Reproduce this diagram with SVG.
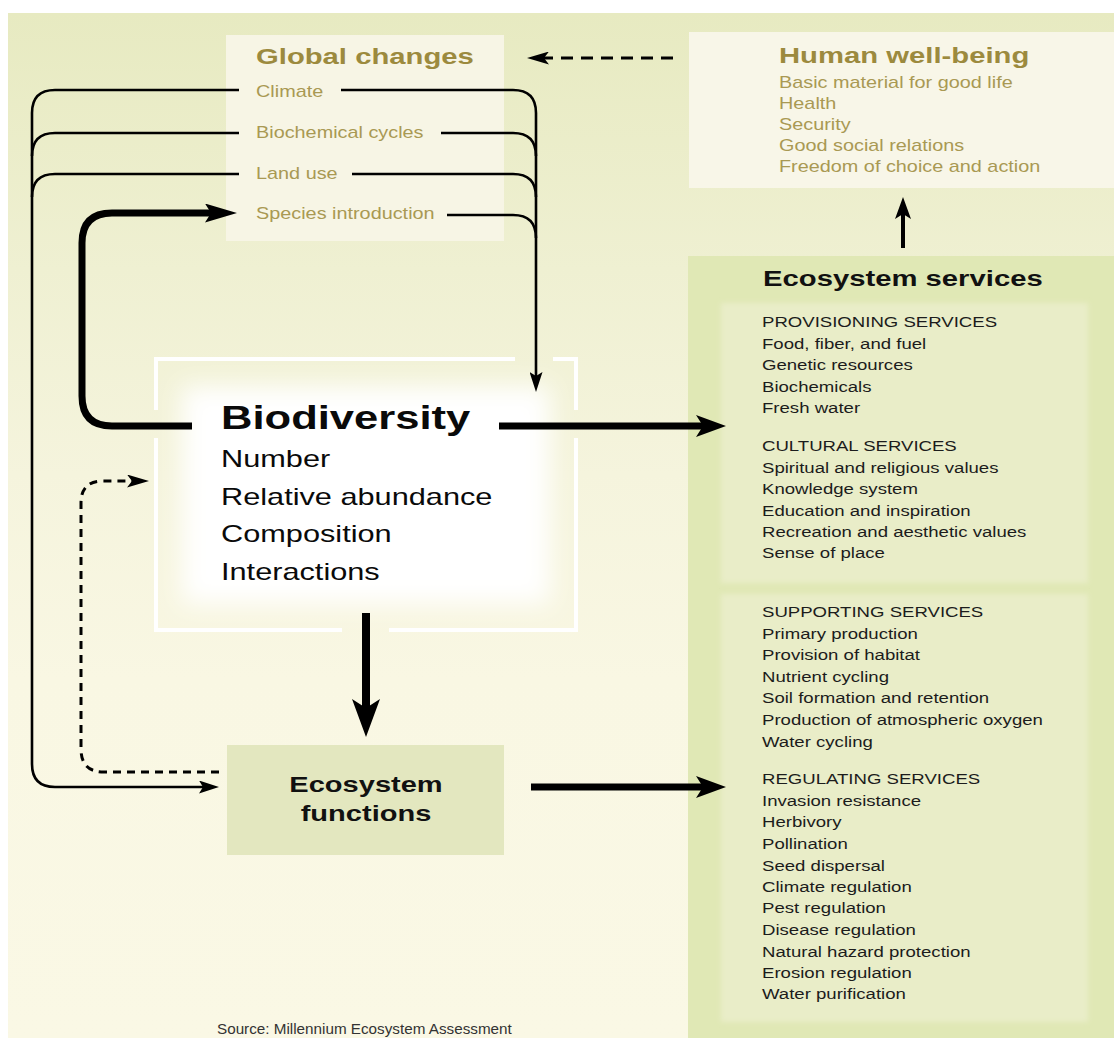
<svg xmlns="http://www.w3.org/2000/svg" width="1114" height="1038" viewBox="0 0 1114 1038">
  <style>
    text { font-family: "Liberation Sans", Arial, sans-serif; }
    .olive-title { font-size: 22px; font-weight: bold; fill: #9c8a3e; }
    .olive { font-size: 16px; fill: #a99953; }
    .svc-title { font-size: 22px; font-weight: bold; fill: #111; }
    .svc { font-size: 15px; fill: #1c1c1c; }
    .bio-title { font-size: 33px; font-weight: bold; fill: #0a0a0a; }
    .bio { font-size: 24px; fill: #0a0a0a; }
    .fn { font-size: 22px; font-weight: bold; fill: #111; text-anchor: middle; }
    .src { font-size: 14px; fill: #333; }
    .thin { fill: none; stroke: #000; stroke-width: 2.6; }
    .thick { fill: none; stroke: #000; stroke-width: 7; }
    .dash { fill: none; stroke: #000; stroke-width: 3; }
    .frame { fill: none; stroke: #fff; stroke-width: 4; }
  </style>
  <defs>
    <linearGradient id="bgGrad" gradientUnits="userSpaceOnUse" x1="0" y1="13" x2="0" y2="1038">
      <stop offset="0" stop-color="#e7eac1"/>
      <stop offset="0.25" stop-color="#eff0d2"/>
      <stop offset="0.45" stop-color="#f5f4dd"/>
      <stop offset="0.65" stop-color="#f9f7e3"/>
      <stop offset="1" stop-color="#faf8e5"/>
    </linearGradient>
    <filter id="glow" x="-20%" y="-30%" width="140%" height="160%">
      <feGaussianBlur stdDeviation="12"/>
    </filter>
    <filter id="soft" x="-5%" y="-5%" width="110%" height="110%">
      <feGaussianBlur stdDeviation="2.5"/>
    </filter>
    <marker id="m-thin" markerUnits="userSpaceOnUse" markerWidth="20" markerHeight="13" refX="4" refY="6.5" orient="auto">
      <path d="M0,0 L20,6.5 L0,13 L4,6.5 z" fill="#000"/>
    </marker>
    <marker id="m-thick" markerUnits="userSpaceOnUse" markerWidth="30" markerHeight="22" refX="7" refY="11" orient="auto">
      <path d="M0,0 L30,11 L0,22 L7,11 z" fill="#000"/>
    </marker>
    <marker id="m-down" markerUnits="userSpaceOnUse" markerWidth="38" markerHeight="28" refX="9" refY="14" orient="auto">
      <path d="M0,0 L38,14 L0,28 L9,14 z" fill="#000"/>
    </marker>
    <marker id="m-species" markerUnits="userSpaceOnUse" markerWidth="32" markerHeight="19" refX="6" refY="9.5" orient="auto">
      <path d="M0,0 L32,9.5 L0,19 L6,9.5 z" fill="#000"/>
    </marker>
    <marker id="m-up" markerUnits="userSpaceOnUse" markerWidth="22" markerHeight="16" refX="5" refY="8" orient="auto">
      <path d="M0,0 L22,8 L0,16 L5,8 z" fill="#000"/>
    </marker>
    <marker id="m-dash" markerUnits="userSpaceOnUse" markerWidth="22" markerHeight="13" refX="5" refY="6.5" orient="auto">
      <path d="M0,0 L22,6.5 L0,13 L5,6.5 z" fill="#000"/>
    </marker>
  </defs>

  <!-- page background -->
  <rect x="0" y="0" width="1114" height="1038" fill="#fff"/>
  <rect x="8" y="13" width="1106" height="1025" fill="url(#bgGrad)"/>

  <!-- Global changes -->
  <g id="node-global-changes">
    <rect x="226" y="35" width="278" height="206" fill="#f7f5e5"/>
    <g transform="translate(256,0) scale(1.33,1)">
      <text class="olive-title" x="0" y="64">Global changes</text>
    </g>
    <g transform="translate(256,0) scale(1.24,1)">
      <text class="olive" x="0" y="97">Climate</text>
      <text class="olive" x="0" y="138">Biochemical cycles</text>
      <text class="olive" x="0" y="179">Land use</text>
      <text class="olive" x="0" y="219">Species introduction</text>
    </g>
  </g>

  <!-- Human well-being -->
  <g id="node-human-wellbeing">
    <rect x="689" y="32" width="425" height="156" fill="#f8f6e8"/>
    <g transform="translate(779,0) scale(1.33,1)">
      <text class="olive-title" x="0" y="63">Human well-being</text>
    </g>
    <g transform="translate(779,0) scale(1.24,1)">
      <text class="olive" x="0" y="88">Basic material for good life</text>
      <text class="olive" x="0" y="109">Health</text>
      <text class="olive" x="0" y="130">Security</text>
      <text class="olive" x="0" y="151">Good social relations</text>
      <text class="olive" x="0" y="172">Freedom of choice and action</text>
    </g>
  </g>

  <!-- Ecosystem services -->
  <g id="node-ecosystem-services">
    <rect x="688" y="256" width="426" height="782" fill="#e0e8b5"/>
    <rect x="721" y="303" width="367" height="280" fill="#e9edc8" filter="url(#soft)"/>
    <rect x="721" y="594" width="367" height="428" fill="#e9edc8" filter="url(#soft)"/>
    <g transform="translate(763,0) scale(1.33,1)">
      <text class="svc-title" x="0" y="286">Ecosystem services</text>
    </g>
    <g transform="translate(762,0) scale(1.24,1)">
      <text class="svc" x="0" y="327">PROVISIONING SERVICES</text>
      <text class="svc" x="0" y="349">Food, fiber, and fuel</text>
      <text class="svc" x="0" y="370">Genetic resources</text>
      <text class="svc" x="0" y="392">Biochemicals</text>
      <text class="svc" x="0" y="413">Fresh water</text>
      <text class="svc" x="0" y="451">CULTURAL SERVICES</text>
      <text class="svc" x="0" y="473">Spiritual and religious values</text>
      <text class="svc" x="0" y="494">Knowledge system</text>
      <text class="svc" x="0" y="516">Education and inspiration</text>
      <text class="svc" x="0" y="537">Recreation and aesthetic values</text>
      <text class="svc" x="0" y="558">Sense of place</text>
      <text class="svc" x="0" y="617">SUPPORTING SERVICES</text>
      <text class="svc" x="0" y="639">Primary production</text>
      <text class="svc" x="0" y="660">Provision of habitat</text>
      <text class="svc" x="0" y="682">Nutrient cycling</text>
      <text class="svc" x="0" y="703">Soil formation and retention</text>
      <text class="svc" x="0" y="725">Production of atmospheric oxygen</text>
      <text class="svc" x="0" y="747">Water cycling</text>
      <text class="svc" x="0" y="784">REGULATING SERVICES</text>
      <text class="svc" x="0" y="806">Invasion resistance</text>
      <text class="svc" x="0" y="827">Herbivory</text>
      <text class="svc" x="0" y="849">Pollination</text>
      <text class="svc" x="0" y="871">Seed dispersal</text>
      <text class="svc" x="0" y="892">Climate regulation</text>
      <text class="svc" x="0" y="913">Pest regulation</text>
      <text class="svc" x="0" y="935">Disease regulation</text>
      <text class="svc" x="0" y="957">Natural hazard protection</text>
      <text class="svc" x="0" y="978">Erosion regulation</text>
      <text class="svc" x="0" y="999">Water purification</text>
    </g>
  </g>

  <!-- Biodiversity: glowing core inside an open white frame -->
  <g id="node-biodiversity">
    <rect x="182" y="386" width="368" height="218" fill="#fff" filter="url(#glow)"/>
    <path class="frame" d="M156,410 V359 H515 M553,359 H576 V410 M156,438 V630 H342 M389,630 H576 V438"/>
    <g transform="translate(221,0) scale(1.32,1)">
      <text class="bio-title" x="0" y="429">Biodiversity</text>
    </g>
    <g transform="translate(221,0) scale(1.28,1)">
      <text class="bio" x="0" y="467">Number</text>
      <text class="bio" x="0" y="505">Relative abundance</text>
      <text class="bio" x="0" y="542">Composition</text>
      <text class="bio" x="0" y="580">Interactions</text>
    </g>
  </g>

  <!-- Ecosystem functions -->
  <g id="node-ecosystem-functions">
    <rect x="227" y="745" width="277" height="110" fill="#e3e7bf"/>
    <g transform="translate(366,0) scale(1.32,1)">
      <text class="fn" x="0" y="792">Ecosystem</text>
      <text class="fn" x="0" y="821">functions</text>
    </g>
  </g>

  <!-- connectors -->
  <g id="connectors">
    <!-- drivers feeding ecosystem functions (left bus) -->
    <path class="thin" d="M239,90 H55 Q32,90 32,113 V764 Q32,787 55,787 H203" marker-end="url(#m-thin)"/>
    <path class="thin" d="M239,133 H55 Q32,133 32,156"/>
    <path class="thin" d="M239,174 H55 Q32,174 32,197"/>
    <!-- drivers feeding biodiversity (right bus) -->
    <path class="thin" d="M341,90 H513 Q536,90 536,113 V376" marker-end="url(#m-thin)"/>
    <path class="thin" d="M441,133 H513 Q536,133 536,156"/>
    <path class="thin" d="M352,174 H513 Q536,174 536,197"/>
    <path class="thin" d="M447,215 H513 Q536,215 536,238"/>
    <!-- biodiversity back to species introduction -->
    <path class="thick" d="M192,426 H112 Q82,426 82,396 V243 Q82,213 112,213 H211" marker-end="url(#m-species)"/>
    <!-- feedback from ecosystem functions to biodiversity -->
    <path class="dash" stroke-dasharray="8 6" d="M219,772 H104 Q81,772 81,749 V503 Q81,481 103,481 H132" marker-end="url(#m-dash)"/>
    <!-- human well-being back to global changes -->
    <path class="dash" stroke-dasharray="12 8" d="M673,58 H544" marker-end="url(#m-dash)"/>
    <!-- services up to well-being -->
    <path fill="none" stroke="#000" stroke-width="4" d="M903,248 V214" marker-end="url(#m-up)"/>
    <!-- biodiversity down to functions -->
    <path fill="none" stroke="#000" stroke-width="8" d="M366,613 V708" marker-end="url(#m-down)"/>
    <!-- into ecosystem services -->
    <path class="thick" d="M499,426 H703" marker-end="url(#m-thick)"/>
    <path class="thick" d="M531,787 H703" marker-end="url(#m-thick)"/>
  </g>

  <!-- credit line -->
  <g id="source">
    <g transform="translate(217,0) scale(1.09,1)">
      <text class="src" x="0" y="1034">Source: Millennium Ecosystem Assessment</text>
    </g>
  </g>
</svg>
